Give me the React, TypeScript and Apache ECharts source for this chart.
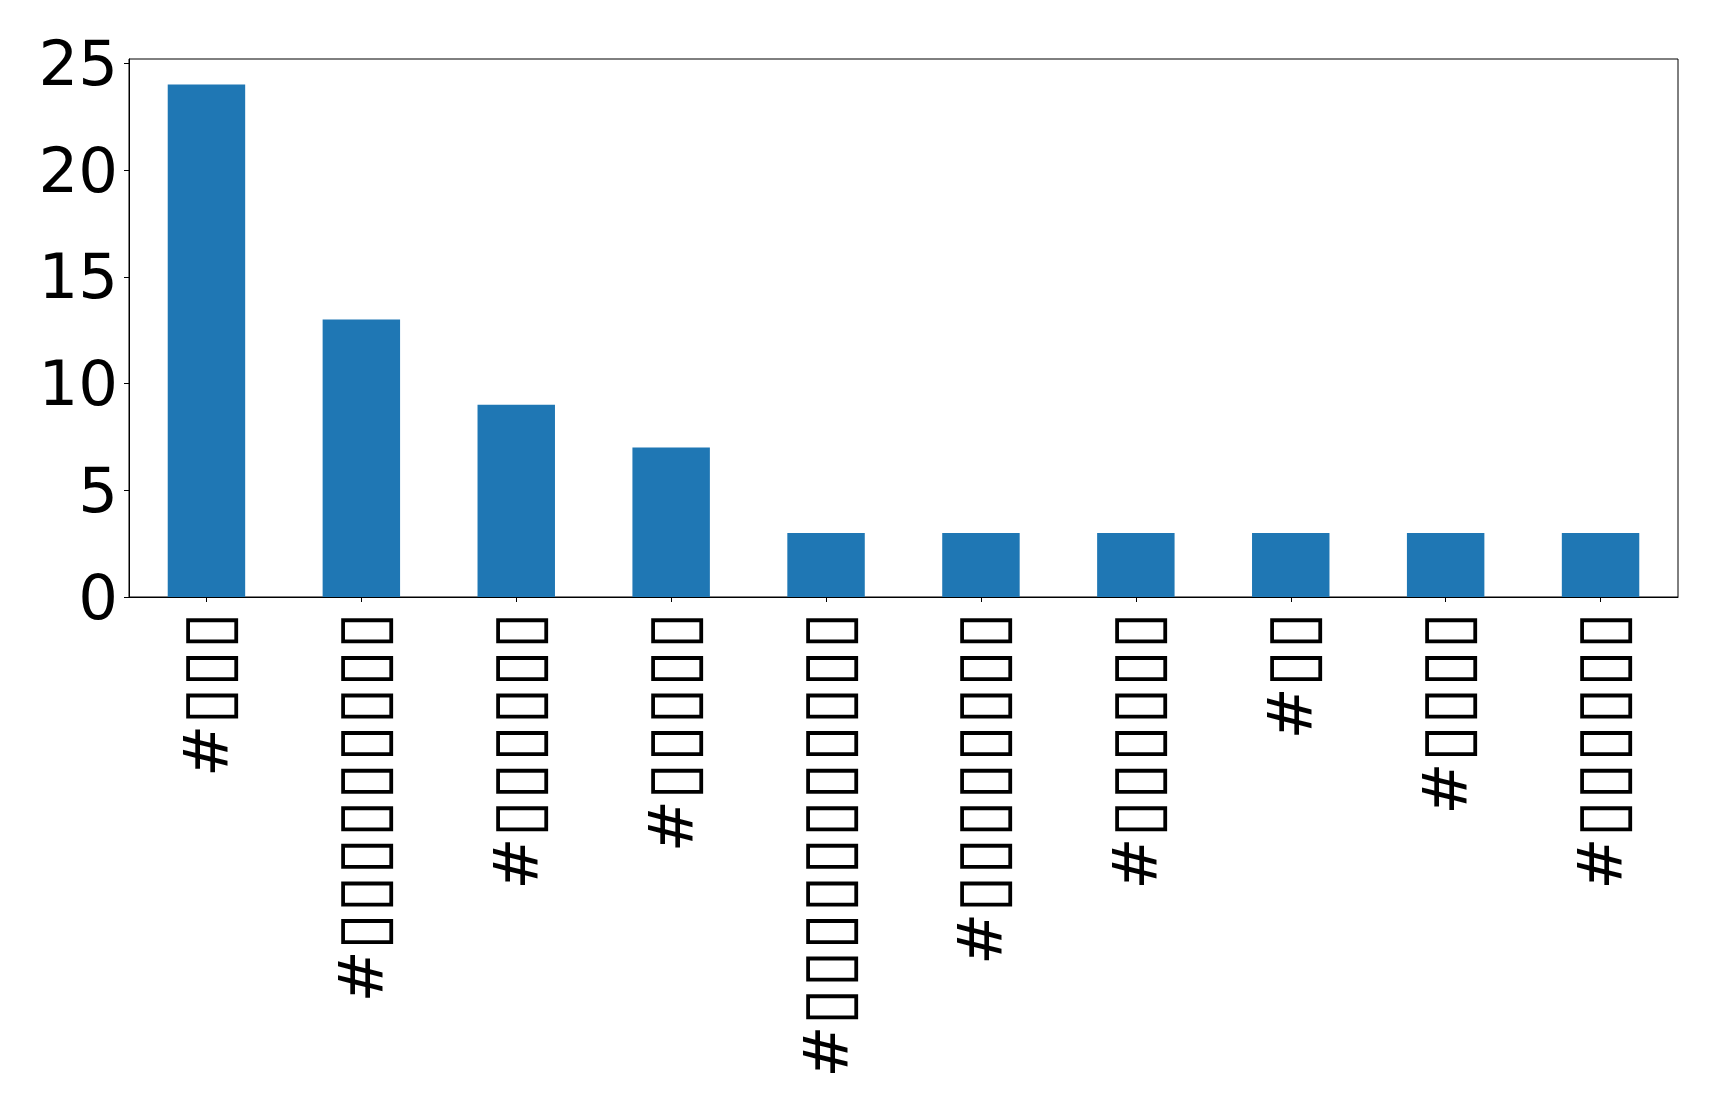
import React, { useEffect, useRef } from "react";
import * as echarts from "echarts";

const categories: string[] = [
  "#▯▯▯",
  "#▯▯▯▯▯▯▯▯▯",
  "#▯▯▯▯▯▯",
  "#▯▯▯▯▯",
  "#▯▯▯▯▯▯▯▯▯▯▯",
  "#▯▯▯▯▯▯▯▯",
  "#▯▯▯▯▯▯",
  "#▯▯",
  "#▯▯▯▯",
  "#▯▯▯▯▯▯",
];
const counts: number[] = [24, 13, 9, 7, 3, 3, 3, 3, 3, 3];
const yTicks: number[] = [0, 5, 10, 15, 20, 25];

export default function App() {
  const ref = useRef<HTMLDivElement>(null);
  useEffect(() => {
    if (!ref.current) return;
    const chart = echarts.init(ref.current, null, { renderer: "svg" });
    const font = "DejaVu Sans";
    chart.setOption({
      animation: false,
      backgroundColor: "#ffffff",
      grid: {
        left: 129,
        top: 59,
        right: 41,
        bottom: 515,
        show: true,
        borderColor: "#000000",
        borderWidth: 1,
        backgroundColor: "transparent",
      },
      xAxis: {
        type: "category",
        data: categories,
        boundaryGap: true,
        axisLine: { show: true, lineStyle: { color: "#000000", width: 1 } },
        axisTick: { show: true, alignWithLabel: true, length: 5, lineStyle: { color: "#000000" } },
        axisLabel: {
          interval: 0,
          rotate: 90,
          margin: 15,
          fontSize: 62.5,
          fontFamily: font,
          color: "#000000",
          hideOverlap: false,
          formatter: (v: string) => `{h|${v.slice(0, 1)}}{b|${v.slice(1)}}`,
          rich: {
            h: { fontSize: 62.5, fontFamily: font, color: "#000000" },
            b: { fontSize: 68.3, fontFamily: font, color: "#000000" },
          },
        },
        splitLine: { show: false },
      },
      yAxis: {
        type: "value",
        min: 0,
        max: 25.2,
        interval: 5,
        axisLine: { show: true, lineStyle: { color: "#000000", width: 1 } },
        axisTick: { show: true, length: 5, lineStyle: { color: "#000000" }, customValues: yTicks },
        axisLabel: {
          margin: 11,
          fontSize: 62.5,
          fontFamily: font,
          color: "#000000",
          customValues: yTicks,
        },
        splitLine: { show: false },
      },
      series: [
        {
          type: "bar",
          data: counts,
          barWidth: "50%",
          itemStyle: { color: "#1f77b4" },
        },
      ],
    });
    return () => chart.dispose();
  }, []);
  return (
    <div
      ref={ref}
      style={{ position: "fixed", left: 0, top: 0, width: 1719, height: 1112, background: "#fff" }}
    />
  );
}
